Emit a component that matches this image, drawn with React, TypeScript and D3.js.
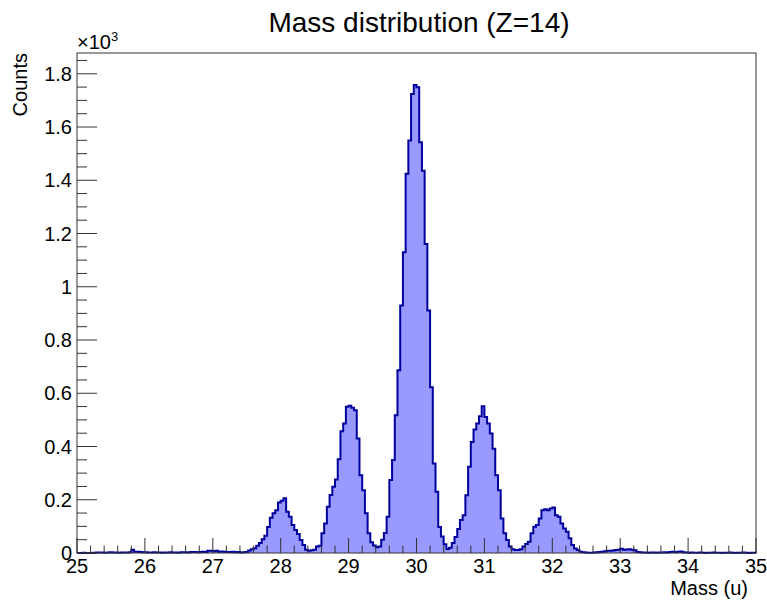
import React from "react";
import * as d3 from "d3";

const binStart = 25;
const binWidth = 0.04;
const binCounts: number[] = [
  0, 0, 1, 0, 0, 0, 1, 2, 2, 2, 1, 2, 3, 2, 2, 1, 2, 2, 2, 3,
  12, 5, 5, 4, 3, 3, 2, 2, 3, 2, 2, 1, 2, 2, 3, 2, 2, 1, 3, 3,
  2, 3, 4, 4, 3, 4, 5, 4, 8, 8, 7, 8, 5, 6, 5, 4, 4, 5, 3, 4,
  2, 3, 4, 9, 14, 18, 27, 38, 52, 65, 98, 132, 149, 161, 190, 196, 206, 155, 136, 105,
  86, 71, 49, 30, 12, 8, 10, 12, 24, 27, 74, 111, 174, 218, 249, 276, 352, 457, 486, 549,
  553, 546, 536, 430, 292, 236, 149, 74, 40, 28, 22, 24, 50, 75, 136, 274, 349, 517, 686, 930,
  1130, 1424, 1549, 1724, 1758, 1749, 1543, 1436, 1161, 911, 623, 336, 230, 98, 62, 33, 15, 20, 38, 60,
  90, 124, 142, 217, 324, 417, 464, 486, 514, 551, 511, 486, 449, 392, 292, 236, 130, 74, 49, 24,
  14, 11, 11, 14, 24, 34, 42, 74, 99, 105, 130, 161, 164, 161, 167, 171, 142, 136, 111, 92,
  80, 55, 30, 17, 11, 5, 3, 2, 1, 1, 2, 3, 4, 5, 7, 8, 8, 9, 11, 12,
  16, 12, 13, 14, 12, 10, 4, 3, 2, 2, 1, 2, 2, 1, 2, 2, 3, 2, 4, 5,
  3, 5, 6, 3, 2, 1, 2, 1, 1, 2, 1, 0, 1, 1, 2, 1, 1, 0, 1, 1,
  2, 1, 0, 1, 1, 2, 1, 0, 1, 1,
];

const xTickValues = [25, 26, 27, 28, 29, 30, 31, 32, 33, 34, 35];
const xTickLabels = ["25", "26", "27", "28", "29", "30", "31", "32", "33", "34", "35"];
const yTickValues = [0, 200, 400, 600, 800, 1000, 1200, 1400, 1600, 1800];
const yTickLabels = ["0", "0.2", "0.4", "0.6", "0.8", "1", "1.2", "1.4", "1.6", "1.8"];

const titleText = "Mass distribution (Z=14)";
const xTitle = "Mass (u)";
const yTitle = "Counts";

const W = 767;
const H = 601;
const FONT = "'Liberation Sans', Arial, Helvetica, sans-serif";

export default function App() {
  const left = 77, right = 756, top = 53, bottom = 553;
  const x = d3.scaleLinear().domain([25, 35]).range([left, right]);
  const y = d3.scaleLinear().domain([0, 1878]).range([bottom, top]);

  const pts: [number, number][] = [];
  pts.push([x(binStart), y(0)]);
  binCounts.forEach((c, i) => {
    const x0 = binStart + i * binWidth;
    pts.push([x(x0), y(c)]);
    pts.push([x(x0 + binWidth), y(c)]);
  });
  pts.push([x(binStart + binCounts.length * binWidth), y(0)]);
  const path = d3.line()(pts) || "";

  const xMinor: number[] = [];
  for (let k = 0; k <= 50; k++) {
    const v = 25 + k * 0.2;
    if (k % 5 !== 0) xMinor.push(v);
  }
  const yMinor: number[] = [];
  for (let v = 50; v < 1878; v += 50) {
    if (v % 200 !== 0) yMinor.push(v);
  }

  const axisColor = "#333";

  return (
    <svg
      width={W}
      height={H}
      style={{ position: "absolute", left: 0, top: 0, background: "#fff" }}
      fontFamily={FONT}
    >
      <rect x={0} y={0} width={W} height={H} fill="#fff" />
      <path d={path} fill="#9999ff" stroke="#00009c" strokeWidth={2} strokeLinejoin="miter" />
      {/* frame */}
      <rect x={left} y={top} width={right - left} height={bottom - top} fill="none" stroke={axisColor} strokeWidth={1} />
      {/* x ticks */}
      {xTickValues.map((v) => (
        <line key={"xm" + v} x1={x(v)} x2={x(v)} y1={bottom} y2={bottom - 15} stroke={axisColor} strokeWidth={1} />
      ))}
      {xMinor.map((v) => (
        <line key={"xn" + v} x1={x(v)} x2={x(v)} y1={bottom} y2={bottom - 7.5} stroke={axisColor} strokeWidth={1} />
      ))}
      {xTickValues.map((v, i) => (
        <text key={"xl" + v} x={x(v)} y={bottom + 20} fontSize={20} textAnchor="middle" fill="#000">
          {xTickLabels[i]}
        </text>
      ))}
      {/* y ticks */}
      {yTickValues.map((v) => (
        <line key={"ym" + v} x1={left} x2={left + 20} y1={y(v)} y2={y(v)} stroke={axisColor} strokeWidth={1} />
      ))}
      {yMinor.map((v) => (
        <line key={"yn" + v} x1={left} x2={left + 10} y1={y(v)} y2={y(v)} stroke={axisColor} strokeWidth={1} />
      ))}
      {yTickValues.map((v, i) => (
        <text key={"yl" + v} x={left - 5} y={y(v) + 7} fontSize={20} textAnchor="end" fill="#000">
          {yTickLabels[i]}
        </text>
      ))}
      {/* exponent */}
      <text x={left} y={top - 4} fontSize={20} fill="#000">
        ×10<tspan fontSize={13} dy={-8}>3</tspan>
      </text>
      {/* titles */}
      <text x={419} y={32} fontSize={28} textAnchor="middle" fill="#000">
        {titleText}
      </text>
      <text x={748} y={595} fontSize={20} textAnchor="end" fill="#000">
        {xTitle}
      </text>
      <text transform={`translate(27,${top}) rotate(-90)`} fontSize={20} textAnchor="end" fill="#000">
        {yTitle}
      </text>
    </svg>
  );
}
